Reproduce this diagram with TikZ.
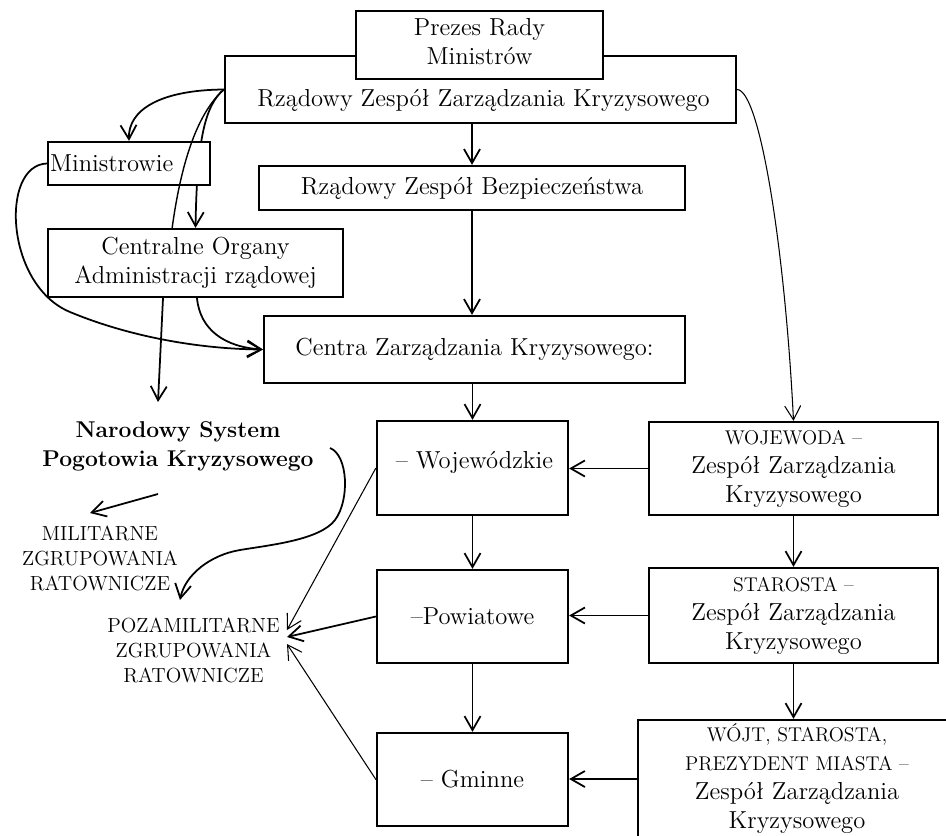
\documentclass[tikz,border=0pt]{standalone}
\usetikzlibrary{arrows.meta,backgrounds,calc}
\newcommand{\upsmall}[1]{{\fontsize{11.3}{16.5}\selectfont #1}}
\begin{document}
\begin{tikzpicture}[x=0.02cm,y=-0.02cm,
  box/.style={draw,line width=1.3pt,fill=white,inner sep=2pt,align=center,
    font=\fontsize{14}{16.5}\selectfont},
  txt/.style={align=center,inner sep=1pt,font=\fontsize{14}{16.5}\selectfont},
  caps/.style={align=center,inner sep=1pt,font=\fontsize{11.6}{14.2}\selectfont},
  conn/.style={line width=1pt,-{Straight Barb[length=0.28cm,width=0.32cm]}},
  thinconn/.style={line width=0.6pt,-{Straight Barb[length=0.28cm,width=0.32cm]}},
  plainconn/.style={line width=0.8pt}]
\useasboundingbox (0,0) rectangle (946,835);
\clip (0,0) rectangle (946,835);

% government level
\node[box,minimum width=10.22cm,minimum height=1.34cm] (rzzk) at (480.5,89.5) {};
\node[txt] (rzzkLabel) at (483.5,100) {Rządowy Zespół Zarządzania Kryzysowego};
\node[box,minimum width=4.94cm,minimum height=1.36cm] (prezes) at (479.5,45) {};
\node[txt] (prezesLabel) at (479.5,41.5) {Prezes Rady\\Ministrów};
\node[box,minimum width=3.24cm,minimum height=0.86cm,text width=3.16cm,align=left,inner xsep=0.04cm] (min) at (129,163.5) {Ministrowie};
\node[box,minimum width=8.52cm,minimum height=0.88cm] (rzb) at (472,188) {Rządowy Zespół Bezpieczeństwa};
\node[box,minimum width=5.9cm,minimum height=1.36cm] (coar) at (195.5,263) {Centralne Organy\\Administracji rządowej};
\node[box,minimum width=8.42cm,minimum height=1.34cm] (czk) at (474.5,349.5) {Centra Zarządzania Kryzysowego:};

% crisis management centres
\node[box,minimum width=3.82cm,minimum height=1.88cm] (woj) at (472.5,468) {};
\node[txt] (wojLabel) at (474.5,462) {– Wojewódzkie};
\node[box,minimum width=3.82cm,minimum height=1.86cm] (pow) at (472.5,616.5) {–Powiatowe};
\node[box,minimum width=3.82cm,minimum height=1.86cm] (gm) at (472.5,779.5) {– Gminne};

% local crisis teams
\node[box,minimum width=5.78cm,minimum height=1.86cm] (wojewoda) at (793.5,468.5) {\upsmall{WOJEWODA –}\\Zespół Zarządzania\\Kryzysowego};
\node[box,minimum width=5.78cm,minimum height=1.9cm] (starosta) at (793.5,615.5) {\upsmall{STAROSTA –}\\Zespół Zarządzania\\Kryzysowego};
\node[box,minimum width=6.36cm,minimum height=2.36cm] (wojt) at (797,779) {\upsmall{WÓJT, STAROSTA,}\\\upsmall{PREZYDENT MIASTA –}\\Zespół Zarządzania\\Kryzysowego};

% rescue system
\node[txt,font=\fontsize{13}{16.4}\selectfont\bfseries] (nsp) at (178,446) {Narodowy System\\Pogotowia Kryzysowego};
\node[caps] (mil) at (100,558) {MILITARNE\\ZGRUPOWANIA\\RATOWNICZE};
\node[caps] (pozamil) at (193.5,650) {POZAMILITARNE\\ZGRUPOWANIA\\RATOWNICZE};

\coordinate (coarCut) at (172,229);
\coordinate (nspIn) at (158,402);
\coordinate (nspOut) at (330,448);
\coordinate (nspSide) at (158,494);
\coordinate (milIn) at (90,513);
\coordinate (pozTop) at (180,600);
\coordinate (pozA) at (287,630);
\coordinate (pozB) at (287,637);
\coordinate (pozC) at (287,644);

% vertical chain
\draw[conn] (rzb.north |- rzzk.south) -- (rzb.north);
\draw[conn] (rzb.south) -- (rzb.south |- czk.north);
\draw[conn] (woj.north |- czk.south) -- (woj.north);
\draw[conn] (woj) -- (pow);
\draw[conn] (pow) -- (gm);

% right column
\draw[conn] (wojewoda.west) -- (wojewoda.west -| woj.east);
\draw[conn] (starosta.west) -- (starosta.west -| pow.east);
\draw[conn] (wojewoda) -- (starosta);
\draw[conn] (starosta.south) -- (starosta.south |- wojt.north);
\draw[conn] (wojt.west) -- (wojt.west -| gm.east);
\draw[thinconn] (rzzk.east) .. controls (760,90) and (785,250) .. (wojewoda.north);

% left branches
\draw[conn] (rzzk.west) .. controls (160,90) and (128,110) .. (min.north);
\begin{pgfonlayer}{background}
  \draw[conn] (rzzk.west) .. controls (205,105) and (197,140) .. (coar.north);
\end{pgfonlayer}
\draw[plainconn] (rzzk.west) .. controls (195,115) and (180,170) .. (coarCut);
\draw[conn] ([xshift=-0.65cm]coar.south) -- (nspIn);
\draw[conn] (min.west) .. controls (0,165) and (5,285) .. (70,312)
  .. controls (130,337) and (200,349) .. (czk.west);
\draw[conn] ([xshift=0.03cm]coar.south) .. controls (200,330) and (225,347) .. (czk.west);
\draw[conn] (nspOut) .. controls (348,455) and (350,500) .. (335,520)
  .. controls (320,540) and (270,545) .. (240,550)
  .. controls (210,555) and (185,575) .. (pozTop);
\draw[conn] (nspSide) -- (milIn);

% links to the non-military groups
\draw[thinconn] (woj.west) -- (pozA);
\draw[conn] (pow.west) -- (pozB);
\draw[thinconn] (gm.west) -- (pozC);
\end{tikzpicture}
\end{document}
